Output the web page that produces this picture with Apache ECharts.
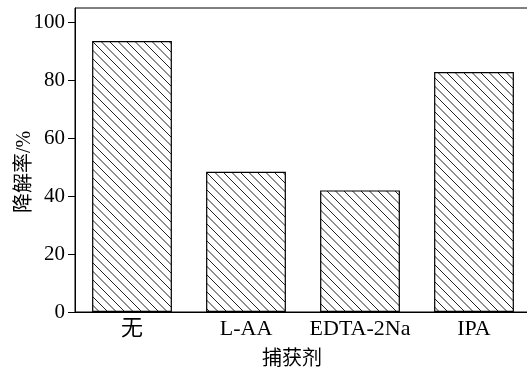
<!DOCTYPE html>
<html>
<head>
<meta charset="utf-8">
<script src="https://cdn.jsdelivr.net/npm/echarts@6/dist/echarts.min.js"></script>
<style>
html,body{margin:0;padding:0;background:#fff;}
#chart{width:527px;height:370px;}
</style>
</head>
<body>
<div id="chart"></div>
<script>
const categories = ['无', 'L-AA', 'EDTA-2Na', 'IPA'];
const values = [93.6, 48.4, 42.0, 82.9];
const yTicks = [0, 20, 40, 60, 80, 100];
const xName = '捕获剂';
const yName = '降解率/%';

function makeHatch() {
  const s = 17, step = 8.5;
  const c = document.createElement('canvas');
  c.width = s; c.height = s;
  const ctx = c.getContext('2d');
  ctx.fillStyle = '#fff';
  ctx.fillRect(0, 0, s, s);
  ctx.strokeStyle = '#222';
  ctx.lineWidth = 1;
  for (let k = -4; k <= 4; k++) {
    const off = k * step;
    ctx.beginPath();
    ctx.moveTo(off - s, -s);
    ctx.lineTo(off + 2 * s, 2 * s);
    ctx.stroke();
  }
  return c;
}

const serif = '"Liberation Serif", "Times New Roman", "Noto Sans CJK SC", serif';
const chart = echarts.init(document.getElementById('chart'), null, {renderer: 'canvas'});
chart.setOption({
  animation: false,
  backgroundColor: '#fff',
  grid: {
    left: 75, top: 8, right: -4, bottom: 58,
    outerBoundsMode: 'none',
    containLabel: false,
    show: true, borderColor: '#000', borderWidth: 1, backgroundColor: 'transparent'
  },
  xAxis: {
    type: 'category',
    data: categories,
    name: xName,
    nameLocation: 'middle',
    nameGap: 38,
    nameMoveOverlap: false,
    nameTextStyle: {fontFamily: serif, fontSize: 20, color: '#000', padding: [0, 22, 0, 0]},
    axisLine: {lineStyle: {color: '#000', width: 1}},
    axisTick: {show: false},
    axisLabel: {interval: 0, fontFamily: serif, fontSize: 22, color: '#000', margin: 6}
  },
  yAxis: {
    type: 'value',
    min: 0, max: 105, interval: 20,
    name: yName,
    nameLocation: 'middle',
    nameGap: 40,
    nameMoveOverlap: false,
    nameTextStyle: {fontFamily: serif, fontSize: 20, color: '#000', padding: [0, 24, 0, 0]},
    axisLine: {show: true, lineStyle: {color: '#000', width: 1}},
    axisTick: {show: true, inside: false, length: 7, customValues: yTicks, lineStyle: {color: '#000'}},
    axisLabel: {fontFamily: serif, fontSize: 21, color: '#000', margin: 10, customValues: yTicks},
    splitLine: {show: false}
  },
  series: [{
    type: 'bar',
    data: values,
    barWidth: '70%',
    itemStyle: {
      color: {image: makeHatch(), repeat: 'repeat'},
      borderColor: '#000',
      borderWidth: 1.2
    }
  }]
});
</script>
</body>
</html>
